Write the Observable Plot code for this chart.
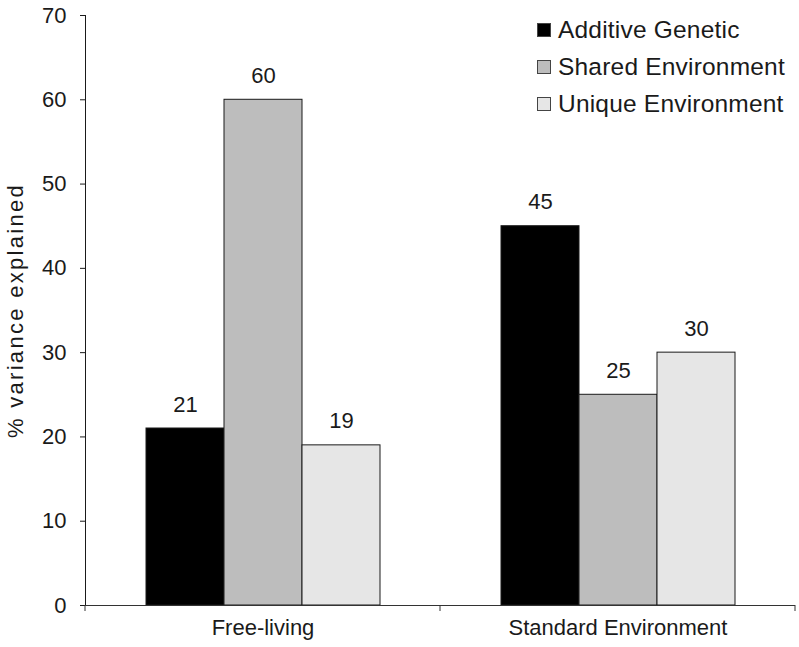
<!DOCTYPE html>
<html><head><meta charset="utf-8">
<script src="https://cdn.jsdelivr.net/npm/d3@7"></script>
<script src="https://cdn.jsdelivr.net/npm/@observablehq/plot@0.6"></script>
<style>
body{margin:0;background:#fff;font-family:Arial,"Liberation Sans",sans-serif;}
#wrap{position:relative;width:799px;height:647px;}
#legend{position:absolute;left:537px;top:11px;font-size:24.5px;letter-spacing:0.2px;color:#1a1a1a;}
.item{display:flex;align-items:center;height:37px;white-space:nowrap;}
.sw{width:14px;height:14px;border:1px solid #444;margin-right:7px;box-sizing:border-box;}
</style></head><body><div id="wrap"><div id="legend"></div></div>
<script>
const categories = ["Free-living", "Standard Environment"];
const components = ["Additive Genetic", "Shared Environment", "Unique Environment"];
const freeLiving = [21, 60, 19];
const standardEnv = [45, 25, 30];
const yTicks = [0, 10, 20, 30, 40, 50, 60, 70];
const colors = ["#000000", "#bdbdbd", "#e6e6e6"];

const data = [];
[freeLiving, standardEnv].forEach((vals, i) =>
  vals.forEach((v, j) => data.push({category: categories[i], component: components[j], value: v})));

const chart = Plot.plot({
  width: 799, height: 647,
  marginLeft: 85, marginRight: 4, marginTop: 15, marginBottom: 42,
  style: {fontFamily: "Arial, 'Liberation Sans', sans-serif", fontSize: "22px", color: "#1a1a1a", background: "#fff"},
  fx: {domain: categories, padding: 0, label: null, tickSize: 0, tickPadding: 14},
  x: {domain: components, paddingInner: 0, paddingOuter: 0.77, axis: null},
  y: {domain: [0, 70], ticks: yTicks, tickSize: 5, tickPadding: 14, line: true,
      label: "% variance explained", labelAnchor: "center", labelOffset: 78, labelArrow: "none"},
  color: {domain: components, range: colors},
  marks: [
    Plot.barY(data, {fx: "category", x: "component", y: "value", fill: "component", stroke: "#1a1a1a", strokeWidth: 1}),
    Plot.text(data, {fx: "category", x: "component", y: "value", text: d => String(d.value), dy: -24, fontSize: 22, fill: "#1a1a1a"}),
    Plot.ruleY([0], {stroke: "#333"})
  ]
});

const svg = d3.select(chart.tagName === "svg" ? chart : chart.querySelector("svg"));
// wider-spaced axis title as in the reference
svg.selectAll('[aria-label="y-axis label"] text').style("letter-spacing", "2.3px");

// boundary tick marks on the category axis
const fx = chart.scale("fx");
const yS = chart.scale("y");
const y0 = yS.apply(0);
const edges = [fx.apply(categories[0])].concat(categories.map(c => fx.apply(c) + fx.bandwidth));
svg.append("g").attr("stroke", "#333").selectAll("line").data(edges).join("line")
  .attr("x1", d => d).attr("x2", d => d).attr("y1", y0).attr("y2", y0 + 6);

document.getElementById("wrap").prepend(chart);

const legend = d3.select("#legend");
components.forEach((c, i) => {
  const it = legend.append("div").attr("class", "item");
  it.append("div").attr("class", "sw").style("background", colors[i]);
  it.append("span").text(c);
});
</script></body></html>
